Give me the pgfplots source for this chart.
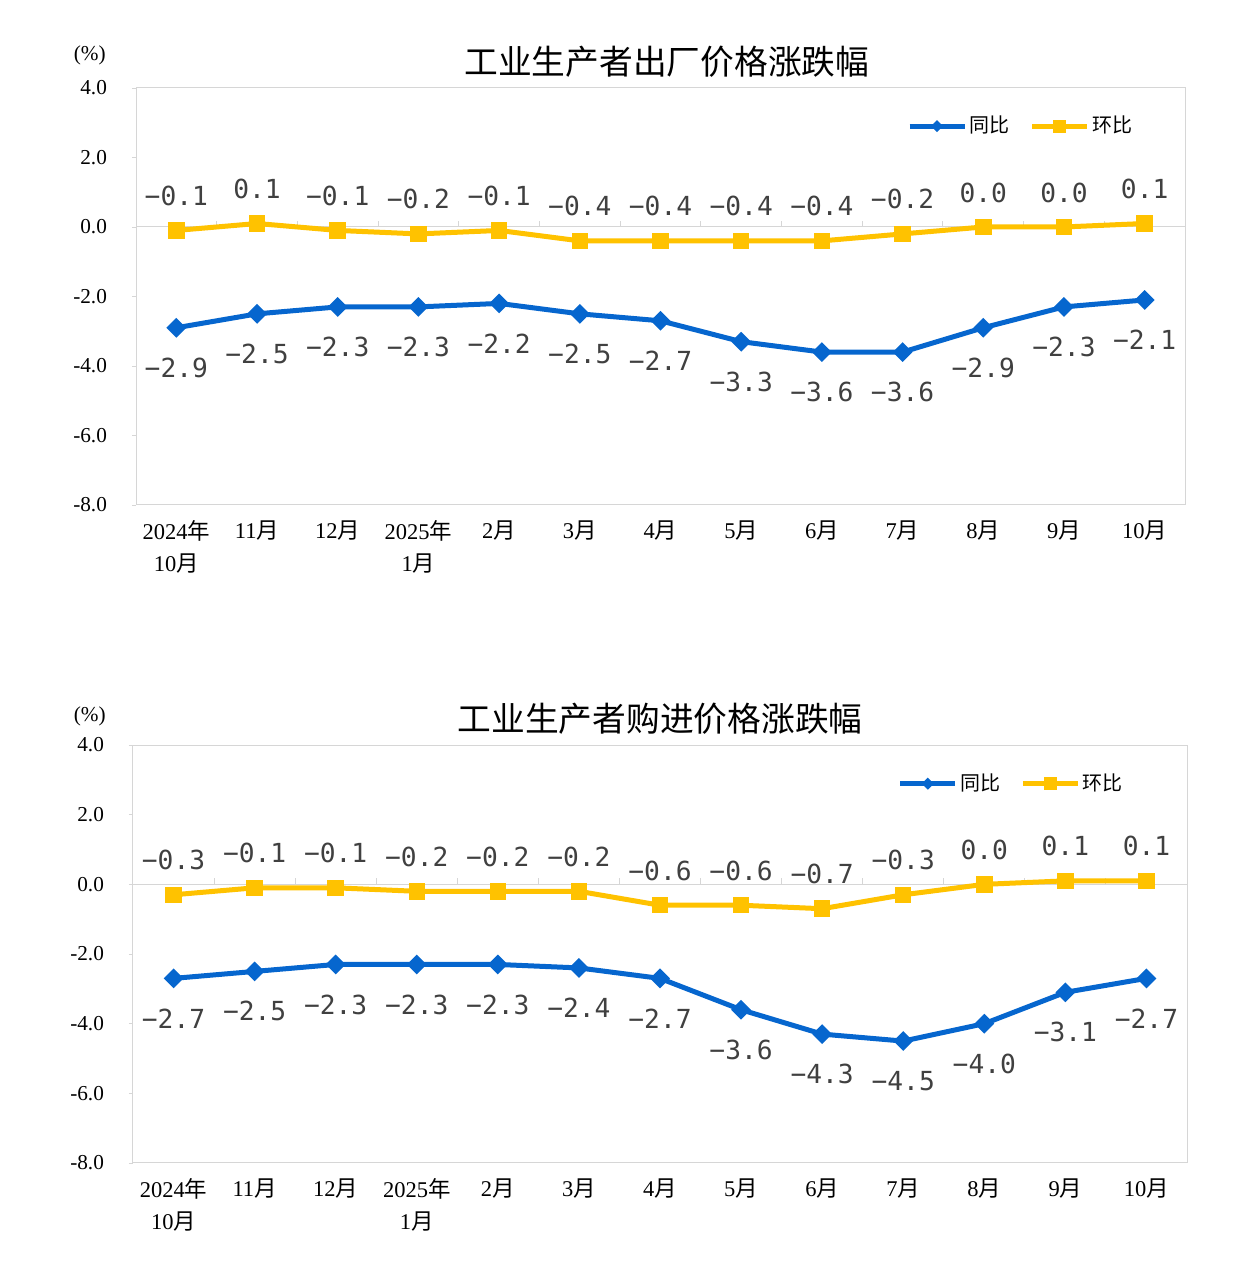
\documentclass[border=0pt]{standalone}
\usepackage{fontspec}
\setmainfont{Liberation Serif}
\newfontfamily\cjk{Noto Sans CJK SC}
\newfontfamily\lbl{DejaVu Sans Mono}
\usepackage{pgfplots}
\pgfplotsset{compat=1.18}
\usepackage{pgfplotstable}

\definecolor{tongbi}{RGB}{6,102,206}
\definecolor{huanbi}{RGB}{255,194,0}
\definecolor{frame}{RGB}{214,214,214}

% x: 0 = 2024-10 ... 12 = 2025-10
\pgfplotstableread{
x hb hbl tb tbl
0  -0.1 −0.1 -2.9 −2.9
1   0.1 0.1  -2.5 −2.5
2  -0.1 −0.1 -2.3 −2.3
3  -0.2 −0.2 -2.3 −2.3
4  -0.1 −0.1 -2.2 −2.2
5  -0.4 −0.4 -2.5 −2.5
6  -0.4 −0.4 -2.7 −2.7
7  -0.4 −0.4 -3.3 −3.3
8  -0.4 −0.4 -3.6 −3.6
9  -0.2 −0.2 -3.6 −3.6
10  0.0 0.0  -2.9 −2.9
11  0.0 0.0  -2.3 −2.3
12  0.1 0.1  -2.1 −2.1
}\chuchang

\pgfplotstableread{
x hb hbl tb tbl
0  -0.3 −0.3 -2.7 −2.7
1  -0.1 −0.1 -2.5 −2.5
2  -0.1 −0.1 -2.3 −2.3
3  -0.2 −0.2 -2.3 −2.3
4  -0.2 −0.2 -2.3 −2.3
5  -0.2 −0.2 -2.4 −2.4
6  -0.6 −0.6 -2.7 −2.7
7  -0.6 −0.6 -3.6 −3.6
8  -0.7 −0.7 -4.3 −4.3
9  -0.3 −0.3 -4.5 −4.5
10  0.0 0.0  -4.0 −4.0
11  0.1 0.1  -3.1 −3.1
12  0.1 0.1  -2.7 −2.7
}\goujin

\pgfplotsset{
  ppi/.style={
    scale only axis,
    anchor=south west,
    clip=false,
    xmin=-0.5, xmax=12.5,
    ymin=-8, ymax=4,
    ytick={-8,-6,...,4},
    ytick pos=left,
    xtick={0,...,12},
    xticklabels={{2024{\cjk 年}\\10{\cjk 月}},{11{\cjk 月}},{12{\cjk 月}},{2025{\cjk 年}\\1{\cjk 月}},
      {2{\cjk 月}},{3{\cjk 月}},{4{\cjk 月}},{5{\cjk 月}},{6{\cjk 月}},{7{\cjk 月}},{8{\cjk 月}},{9{\cjk 月}},{10{\cjk 月}}},
    xticklabel style={align=center, font=\fontsize{9}{12.8}\selectfont, inner sep=2pt, yshift=-2.4pt},
    yticklabel style={/pgf/number format/fixed, /pgf/number format/fixed zerofill,
      /pgf/number format/precision=1, /pgf/number format/assume math mode=true,
      font=\fontsize{8.5}{10}\selectfont, xshift=-6.5pt},
    major x tick style={draw=none},
    y tick style={frame},
    tick align=outside,
    major tick length=1.6pt,
    axis line style={frame},
    title style={font=\cjk\fontsize{13.5}{16}\selectfont, anchor=center, yshift=4.5pt},
    legend style={draw=none, fill=none, at={(1,1)}, anchor=north east, inner sep=0pt,
      legend columns=2, font=\cjk\fontsize{8}{10}\selectfont,
      /tikz/every even column/.append style={column sep=7pt},
      nodes={inner sep=1pt}},
    legend image code/.code={
      \draw[mark repeat=2, mark phase=2, #1] plot coordinates {(0pt,0pt) (11pt,0pt) (22pt,0pt)};},
  },
  tbline/.style={tongbi, line width=2pt, mark=square*, mark size=1.8pt,
    mark options={rotate=45, solid},
    legend image post style={mark size=0.7pt},
    nodes near coords, point meta=explicit symbolic,
    every node near coord/.append style={font=\lbl\fontsize{10.5}{12}\selectfont,
      text=black!75, anchor=center, yshift=-16pt}},
  hbline/.style={huanbi, line width=2pt, mark=square*, mark size=2.3pt,
    mark options={solid},
    legend image post style={mark size=1.6pt},
    nodes near coords, point meta=explicit symbolic,
    every node near coord/.append style={font=\lbl\fontsize{10.5}{12}\selectfont,
      text=black!75, anchor=center, yshift=13.8pt}},
}

\begin{document}
\begin{tikzpicture}
\useasboundingbox (0,0) rectangle (501.6pt,505.6pt);

\begin{axis}[ppi,
  at={(54.4pt,303.6pt)}, width=419.6pt, height=166.8pt,
  title={工业生产者出厂价格涨跌幅},
  title style={xshift=2.5pt},
  legend style={xshift=-20pt, yshift=-10pt},
]
\draw[frame] (axis cs:-0.5,0) -- (axis cs:12.5,0);
\pgfplotsinvokeforeach{0.5,1.5,...,11.5}{\draw[frame] (axis cs:#1,0) -- ++(0pt,2.4pt);}
\addplot[tbline] table[x=x, y=tb, meta=tbl] {\chuchang};
\addlegendentry{同比}
\addplot[hbline] table[x=x, y=hb, meta=hbl] {\chuchang};
\addlegendentry{环比}
\node at (rel axis cs:-0.044,1.079) {\fontsize{8.5}{10}\selectfont(\%)};
\end{axis}

\begin{axis}[ppi,
  at={(53.2pt,40.4pt)}, width=421.6pt, height=167.2pt,
  title={工业生产者购进价格涨跌幅},
  legend style={xshift=-24.5pt, yshift=-10.2pt},
]
\draw[frame] (axis cs:-0.5,0) -- (axis cs:12.5,0);
\pgfplotsinvokeforeach{0.5,1.5,...,11.5}{\draw[frame] (axis cs:#1,0) -- ++(0pt,2.4pt);}
\addplot[tbline] table[x=x, y=tb, meta=tbl] {\goujin};
\addlegendentry{同比}
\addplot[hbline] table[x=x, y=hb, meta=hbl] {\goujin};
\addlegendentry{环比}
\node at (rel axis cs:-0.041,1.069) {\fontsize{8.5}{10}\selectfont(\%)};
\end{axis}
\end{tikzpicture}
\end{document}
